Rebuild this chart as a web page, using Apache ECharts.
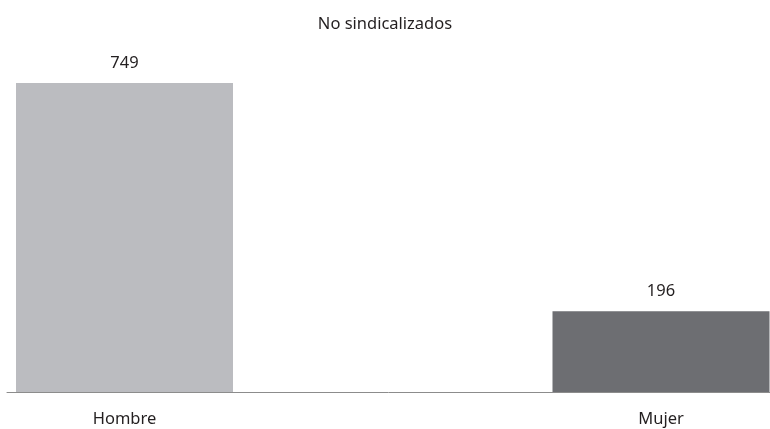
<!DOCTYPE html>
<html>
<head>
<meta charset="utf-8">
<title>No sindicalizados</title>
<script src="https://cdn.jsdelivr.net/npm/echarts@6/dist/echarts.min.js"></script>
<style>
  html, body { margin: 0; padding: 0; background: #fff; }
  #chart { width: 770px; height: 429px; }
</style>
</head>
<body>
<div id="chart"></div>
<script>
  // datos
  var categories = ["Hombre", "Mujer"];
  var values = [749, 196];
  var titleText = "No sindicalizados";

  var barColors = ["#bbbcc0", "#6d6e72"];
  var textColor = "#231f20";
  var fontFamily = "'Noto Sans', sans-serif";

  var chart = echarts.init(document.getElementById("chart"));
  chart.setOption({
    animation: false,
    title: {
      text: titleText,
      left: "center",
      top: 11,
      textStyle: { fontFamily: fontFamily, fontSize: 16.5, fontWeight: "normal", color: textColor }
    },
    grid: [
      // barras: centros de categoría en los extremos
      { left: 124.5, right: 109, top: 83, bottom: 37 },
      // línea base
      { left: 7, right: 0, top: 83, bottom: 37 }
    ],
    xAxis: [
      {
        gridIndex: 0,
        type: "category",
        data: categories,
        boundaryGap: false,
        axisLine: { show: false },
        axisTick: { show: false },
        axisLabel: { margin: 19, fontFamily: fontFamily, fontSize: 16.5, color: textColor }
      },
      {
        gridIndex: 1,
        type: "category",
        data: [""],
        axisLine: { show: true, lineStyle: { color: "#8c8c8c", width: 1 } },
        axisTick: { show: false },
        axisLabel: { show: false }
      }
    ],
    yAxis: [
      { gridIndex: 0, type: "value", min: 0, max: 749, show: false, splitLine: { show: false } },
      { gridIndex: 1, type: "value", show: false, splitLine: { show: false } }
    ],
    series: [
      {
        type: "bar",
        xAxisIndex: 0,
        yAxisIndex: 0,
        data: values,
        barWidth: 217,
        clip: false,
        itemStyle: {
          color: function (p) { return barColors[p.dataIndex]; }
        },
        label: {
          show: true,
          position: "top",
          distance: 11,
          fontFamily: fontFamily,
          fontSize: 16.5,
          color: textColor
        }
      }
    ]
  });
</script>
</body>
</html>
